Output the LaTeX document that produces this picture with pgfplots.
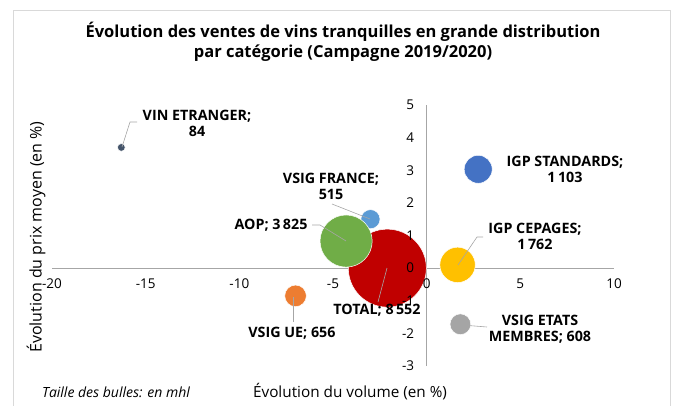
\documentclass[border=0pt]{standalone}
\usepackage{pgfplots}
\pgfplotsset{compat=1.18}
\usepackage{fontspec}
\setmainfont{Open Sans}
\definecolor{cIGPS}{HTML}{4472C4}
\definecolor{cVSIGF}{HTML}{5B9BD5}
\definecolor{cAOP}{HTML}{70AD47}
\definecolor{cTOT}{HTML}{C00000}
\definecolor{cCEP}{HTML}{FFC000}
\definecolor{cUE}{HTML}{ED7D31}
\definecolor{cEM}{HTML}{A5A5A5}
\definecolor{cVE}{HTML}{44546A}
\definecolor{axisgray}{HTML}{A6A6A6}
\definecolor{framegray}{HTML}{D9D9D9}
\definecolor{leadgray}{HTML}{A6A6A6}
\pgfplotsset{
 layers/mylayers/.define layer set={axis background,axis grid,axis ticks,axis lines,pre main,main,axis tick labels,axis descriptions,axis foreground}{
  grid style={/pgfplots/on layer=axis grid},
  tick style={/pgfplots/on layer=axis ticks},
  axis line style={/pgfplots/on layer=axis lines},
  label style={/pgfplots/on layer=axis descriptions},
  legend style={/pgfplots/on layer=axis descriptions},
  title style={/pgfplots/on layer=axis descriptions},
  colorbar style={/pgfplots/on layer=axis descriptions},
  ticklabel style={/pgfplots/on layer=axis tick labels},
  axis background@ style={/pgfplots/on layer=axis background},
  3d box foreground style={/pgfplots/on layer=axis foreground},
 },
}
\newcommand{\bub}[4]{% color, size, x, y
 \addplot[only marks, mark=*, mark size={39*sqrt(#2/8552)}, mark options={fill=#1, draw=white, line width=0.5pt}] coordinates {(#3,#4)};}
\begin{document}
\begin{tikzpicture}
\draw[framegray, line width=1pt] (13pt,-420pt) -- (13pt,-10pt) -- (670pt,-10pt) -- (670pt,-420pt);
\begin{axis}[
 at={(52pt,-366pt)}, anchor=south west,
 scale only axis, width=562pt, height=261pt,
 xmin=-20, xmax=10, ymin=-3, ymax=5,
 axis lines=middle,
 axis line style={-, draw=axisgray, line width=1pt},
 xtick={-20,-15,...,10}, ytick={-3,-2,...,5},
 major tick length=0pt,
 hide obscured x ticks=false, hide obscured y ticks=false,
 /pgf/number format/assume math mode=true,
 tick label style={font=\fontsize{13.5}{13.5}\selectfont, text=black},
 xticklabel style={yshift=-7pt},
 yticklabel style={xshift=-9pt},
 clip=false,
 set layers=mylayers,
]
\bub{cVE}{84}{-16.3}{3.7}
\bub{cIGPS}{1103}{2.75}{3.03}
\bub{cVSIGF}{515}{-3.0}{1.5}
\bub{cTOT}{8552}{-2.1}{0.0}
\bub{cAOP}{3825}{-4.3}{0.83}
\bub{cCEP}{1762}{1.65}{0.1}
\bub{cUE}{656}{-7.0}{-0.85}
\bub{cEM}{608}{1.8}{-1.72}
\end{axis}
\begin{scope}[x=1pt,y=-1pt]
% leader lines
\draw[leadgray, line width=0.6pt] (122,147) -- (130,122) -- (137,122);
\draw[leadgray, line width=0.6pt] (332,204) -- (370,219);
\draw[leadgray, line width=0.6pt] (312,225) -- (320,225) -- (346,241);
\draw[leadgray, line width=0.6pt] (378,302) -- (387,268);
\draw[leadgray, line width=0.6pt] (483,237) -- (477,237) -- (458,265);
\draw[leadgray, line width=0.6pt] (293,322) -- (293,297);
\draw[leadgray, line width=0.6pt] (487,327) -- (462,325);
% labels
\begin{scope}[every node/.style={font=\fontsize{14.3}{16}\selectfont\bfseries, align=center, inner sep=0pt}]
\node at (197,123) {VIN ETRANGER;\\84};
\node at (331,186) {VSIG FRANCE;\\515};
\node at (271,225) {AOP; 3\,825};
\node at (565,169) {IGP STANDARDS;\\1\,103};
\node at (535,236) {IGP CEPAGES;\\1\,762};
\node at (377,310) {TOTAL; 8\,552};
\node at (292,333) {VSIG UE; 656};
\node at (540,329) {VSIG ETATS\\MEMBRES; 608};
\end{scope}
% titles
\node[font=\fontsize{16.5}{20}\selectfont\bfseries, align=center] at (343,42) {Évolution des ventes de vins tranquilles en grande distribution\\par catégorie (Campagne 2019/2020)};
\node[font=\fontsize{15.3}{16}\selectfont] at (350,392) {Évolution du volume (en \%)};
\node[font=\fontsize{14}{14}\selectfont\itshape] at (116,392) {Taille des bulles: en mhl};
\node[font=\fontsize{16}{16}\selectfont, rotate=90] at (36,237) {Évolution du prix moyen (en \%)};
\end{scope}
\pgfresetboundingbox
\path[use as bounding box] (0pt,0pt) rectangle (674pt,-405pt);
\end{tikzpicture}
\end{document}
